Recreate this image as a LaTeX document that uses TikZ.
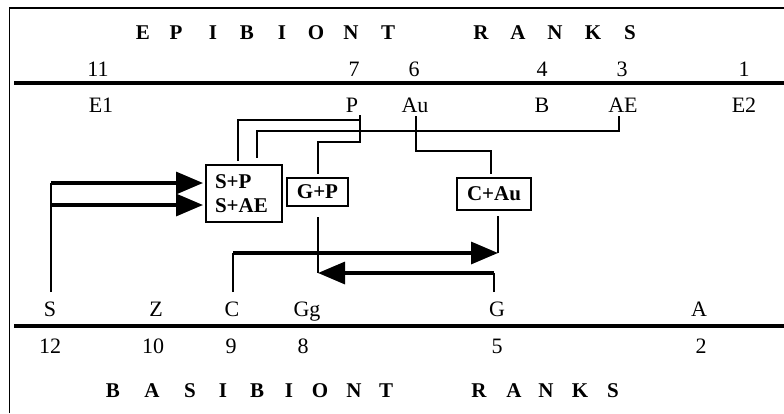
\documentclass[tikz,border=0pt]{standalone}
\usepackage{fontspec}
\setmainfont{Liberation Serif}
\usetikzlibrary{arrows.meta}
\begin{document}
\begin{tikzpicture}[x=1pt,y=-1pt,
  lab/.style={anchor=base, inner sep=0pt, font=\fontsize{22}{26}\selectfont},
  ttl/.style={anchor=base, inner sep=0pt, font=\fontsize{21}{25}\selectfont\bfseries},
  box/.style={draw, line width=1.6pt, inner sep=0pt, font=\fontsize{21}{24}\selectfont\bfseries},
  conn/.style={line width=1.3pt},
  rulebar/.style={line width=3.8pt},
  flow/.style={line width=3.3pt, -{Triangle[length=27pt,width=22pt]}},
]
\useasboundingbox (0,0) rectangle (784,413);
\fill[white] (0,0) rectangle (784,413);
% frame
\draw[line width=1.8pt] (9.5,413) -- (9.5,8) -- (784,8);
% rank rules
\draw[rulebar] (14,82.7) -- (784,82.7);
\draw[rulebar] (14,326.3) -- (784,326.3);
% titles
\foreach \x/\c [count=\i] in {143/E,176/P,213/I,247/B,282/I,316/O,351/N,388/T,481/R,518/A,555/N,593/K,630/S}
  \node[ttl] (ep\i) at (\x,39) {\c};
\foreach \x/\c [count=\i] in {113/B,152/A,190/S,223/I,257/B,289/I,320/O,354/N,386/T,479/R,514/A,546/N,580/K,613/S}
  \node[ttl] (bs\i) at (\x,397) {\c};
% epibiont ranks
\node[lab] (n11) at (98,76) {11};
\node[lab] (n7) at (354,76) {7};
\node[lab] (n6) at (414,76) {6};
\node[lab] (n4) at (542,76) {4};
\node[lab] (n3) at (622,76) {3};
\node[lab] (n1) at (744,76) {1};
\node[lab] (E1) at (101,112) {E1};
\node[lab] (P) at (352,112) {P};
\node[lab] (Au) at (415,112) {Au};
\node[lab] (B) at (542,112) {B};
\node[lab] (AE) at (623,112) {AE};
\node[lab] (E2) at (744,112) {E2};
% basibiont ranks
\node[lab] (S) at (50,316) {S};
\node[lab] (Z) at (156,316) {Z};
\node[lab] (C) at (232,316) {C};
\node[lab] (Gg) at (307,316) {Gg};
\node[lab] (G) at (497,316) {G};
\node[lab] (A) at (699,316) {A};
\node[lab] (n12) at (50,353) {12};
\node[lab] (n10) at (153,353) {10};
\node[lab] (n9) at (231,353) {9};
\node[lab] (n8) at (303,353) {8};
\node[lab] (n5) at (497,353) {5};
\node[lab] (n2) at (701,353) {2};
% boxes
\node[box, minimum width=76pt, minimum height=57pt, text width=58pt, inner xsep=9pt, align=left]
  (sp) at (244,193.5) {S+P\\S+AE};
\node[box, minimum width=61pt, minimum height=28pt] (gp) at (317.5,192) {G+P};
\node[box, minimum width=74pt, minimum height=32pt] (ca) at (494,194) {C+Au};
% connector points
\coordinate (pTop) at (360,115);
\coordinate (pJ1) at (360,120);
\coordinate (pJ2) at (360,142);
\coordinate (spL) at (238,161);
\coordinate (spR) at (257,158);
\coordinate (gpT) at (318,174);
\coordinate (aeTop) at (619,116);
\coordinate (aeJ) at (619,131);
\coordinate (auTop) at (416,116);
\coordinate (auJ) at (416,151);
\coordinate (caT) at (491,174);
\coordinate (sBot) at (51,292);
\coordinate (s1) at (51,183);
\coordinate (s2) at (51,205);
\coordinate (spIn1) at (203,183);
\coordinate (spIn2) at (203,205);
\coordinate (cBot) at (233,292);
\coordinate (c1) at (233,253);
\coordinate (caIn) at (498,253);
\coordinate (caB) at (498,216);
\coordinate (gBot) at (494,292);
\coordinate (g1) at (494,273);
\coordinate (gpIn) at (318,273);
\coordinate (gpB) at (318,217);
% thin connectors from epibionts
\draw[conn] (spL) |- (pJ1);
\draw[conn] (pTop) -- (pJ2) -| (gpT);
\draw[conn] (aeTop) -- (aeJ) -| (spR);
\draw[conn] (auTop) -- (auJ) -| (caT);
% basibiont flows
\draw[conn] (sBot) -- (s1);
\draw[flow] (s1) -- (spIn1);
\draw[flow] (s2) -- (spIn2);
\draw[conn] (cBot) -- (c1);
\draw[flow] (c1) -- (caIn);
\draw[conn] (caB) -- (caIn);
\draw[conn] (gBot) -- (g1);
\draw[flow] (g1) -- (gpIn);
\draw[conn] (gpB) -- (gpIn);
\end{tikzpicture}
\end{document}
